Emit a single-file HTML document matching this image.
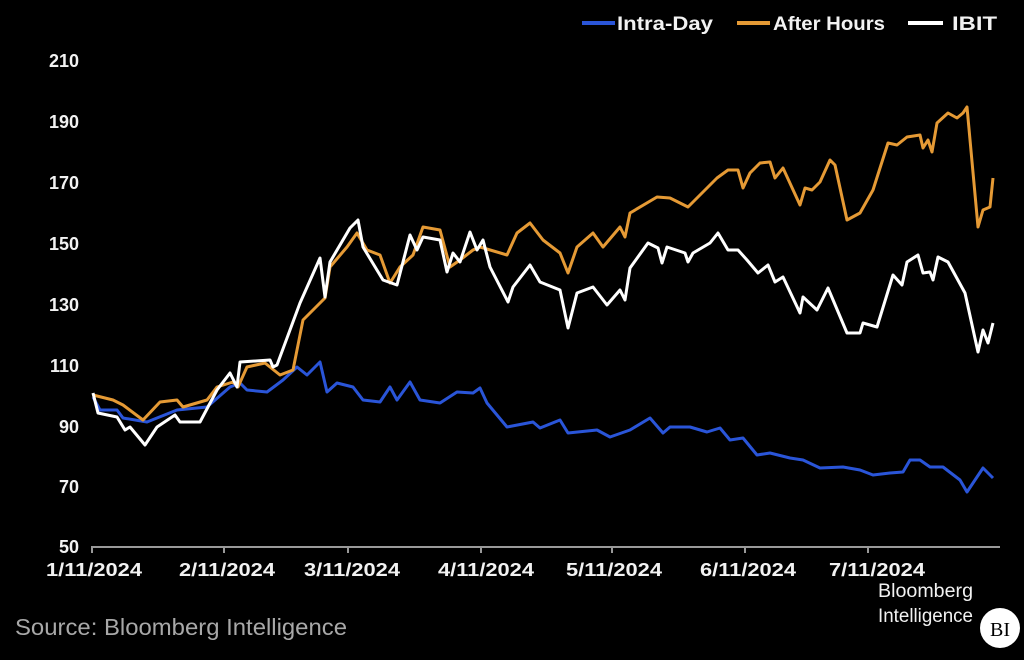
<!DOCTYPE html>
<html><head><meta charset="utf-8"><style>
html,body{margin:0;padding:0;background:#000;width:1024px;height:660px;overflow:hidden}
svg{display:block}
</style></head><body>
<svg width="1024" height="660" xmlns="http://www.w3.org/2000/svg" font-family="Liberation Sans, sans-serif">
<rect width="1024" height="660" fill="#000"/>
<g font-weight="bold" font-size="19" fill="#f2f2f2">
<line x1="582" y1="23" x2="615" y2="23" stroke="#2a55d8" stroke-width="4"/>
<text x="617" y="30" textLength="96" lengthAdjust="spacingAndGlyphs">Intra-Day</text>
<line x1="737" y1="23" x2="770" y2="23" stroke="#e59a35" stroke-width="4"/>
<text x="773" y="30" textLength="112" lengthAdjust="spacingAndGlyphs">After Hours</text>
<line x1="908" y1="23" x2="943" y2="23" stroke="#fff" stroke-width="4"/>
<text x="952" y="30" textLength="45" lengthAdjust="spacingAndGlyphs">IBIT</text>
</g>
<g font-weight="bold" font-size="18" fill="#f2f2f2" text-anchor="end">
<text x="79" y="67">210</text><text x="79" y="128">190</text><text x="79" y="189">170</text>
<text x="79" y="250">150</text><text x="79" y="311">130</text><text x="79" y="372">110</text>
<text x="79" y="433">90</text><text x="79" y="493">70</text><text x="79" y="553">50</text>
</g>
<g stroke="#999" stroke-width="2">
<line x1="91" y1="547" x2="1000" y2="547"/>
<line x1="92" y1="547" x2="92" y2="553"/><line x1="224" y1="547" x2="224" y2="553"/>
<line x1="348" y1="547" x2="348" y2="553"/><line x1="481" y1="547" x2="481" y2="553"/>
<line x1="612" y1="547" x2="612" y2="553"/><line x1="745" y1="547" x2="745" y2="553"/>
<line x1="868" y1="547" x2="868" y2="553"/>
</g>
<g font-weight="bold" font-size="18" fill="#f2f2f2" text-anchor="middle">
<text x="94" y="576" textLength="96" lengthAdjust="spacingAndGlyphs">1/11/2024</text>
<text x="227" y="576" textLength="96" lengthAdjust="spacingAndGlyphs">2/11/2024</text>
<text x="352" y="576" textLength="96" lengthAdjust="spacingAndGlyphs">3/11/2024</text>
<text x="486" y="576" textLength="96" lengthAdjust="spacingAndGlyphs">4/11/2024</text>
<text x="614" y="576" textLength="96" lengthAdjust="spacingAndGlyphs">5/11/2024</text>
<text x="748" y="576" textLength="96" lengthAdjust="spacingAndGlyphs">6/11/2024</text>
<text x="877" y="576" textLength="96" lengthAdjust="spacingAndGlyphs">7/11/2024</text>
</g>
<g fill="none" stroke-width="3" stroke-linejoin="round">
<polyline stroke="#2a55d8" points="93,397 100,410 117,410 123,418 147,422 177,410 207,407 230,387 240,383 247,390 267,392 283,380 297,367 307,375 320,362 327,392 337,383 353,387 363,400 380,402 390,387 397,400 410,382 420,400 440,403 457,392 473,393 480,388 487,403 507,427 533,422 540,428 560,420 568,433 597,430 610,437 630,430 650,418 663,433 670,427 690,427 707,432 720,428 730,440 743,438 757,455 770,453 790,458 803,460 820,468 843,467 860,470 873,475 890,473 903,472 910,460 920,460 930,467 943,467 960,480 967,492 983,468 993,478"/>
<polyline stroke="#e59a35" points="93,395 113,400 123,405 143,420 160,402 177,400 183,407 207,400 217,387 233,382 238,387 247,367 265,363 280,375 293,370 303,320 325,298 330,267 347,247 357,233 367,250 380,255 390,283 400,267 413,255 423,227 440,230 450,267 460,260 473,250 480,247 507,255 517,233 530,223 543,240 560,253 568,273 577,247 593,233 603,247 620,227 625,237 630,213 657,197 670,198 688,207 717,178 728,170 738,170 743,188 750,173 760,163 770,162 775,178 783,168 800,205 805,188 812,190 820,182 830,160 835,165 847,220 860,213 873,190 888,143 897,145 907,137 920,135 923,148 928,140 932,152 937,123 948,113 957,118 963,113 967,107 978,227 983,210 990,207 993,178"/>
<polyline stroke="#ffffff" points="93,393 98,413 117,417 125,430 130,427 145,445 157,427 175,415 180,422 200,422 217,390 230,373 237,387 240,362 270,360 273,367 277,365 300,303 320,258 325,297 330,262 350,228 358,220 363,247 383,280 397,285 410,235 417,250 423,237 440,240 447,272 453,253 460,262 470,232 477,250 483,240 490,267 508,302 513,287 530,265 540,282 560,290 568,328 577,293 593,287 607,305 620,290 625,300 630,268 648,243 658,248 662,263 667,247 685,253 688,262 693,253 710,243 718,233 728,250 738,250 747,260 758,273 768,265 775,282 783,277 800,313 803,297 817,310 828,288 847,333 860,333 863,323 877,327 893,275 902,285 907,262 918,255 923,273 930,272 933,280 938,257 948,262 965,293 978,352 983,330 988,343 993,323"/>
</g>
<text x="15" y="635" font-size="23" fill="#a8a8a8" textLength="332" lengthAdjust="spacingAndGlyphs">Source: Bloomberg Intelligence</text>
<text x="878" y="597" font-size="19" fill="#f2f2f2" textLength="95" lengthAdjust="spacingAndGlyphs">Bloomberg</text>
<text x="878" y="622" font-size="19" fill="#f2f2f2" textLength="95" lengthAdjust="spacingAndGlyphs">Intelligence</text>
<circle cx="1000" cy="628" r="20" fill="#fff"/>
<text x="1000" y="636" font-size="20" fill="#000" text-anchor="middle" font-family="Liberation Serif, serif">BI</text>
</svg>
</body></html>
